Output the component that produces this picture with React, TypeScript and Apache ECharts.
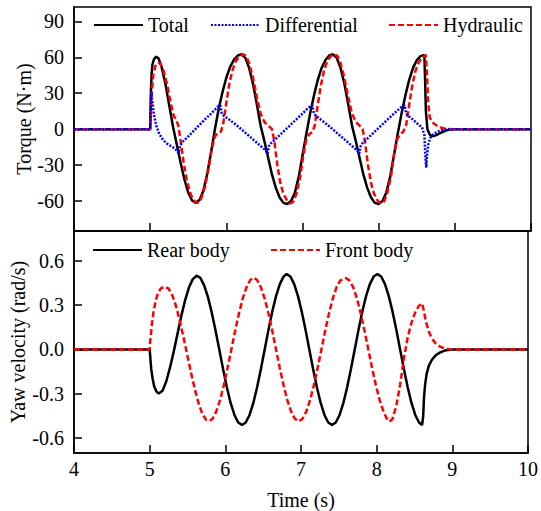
import React, { useEffect, useRef } from "react";
import * as echarts from "echarts";

// ---- Data (time s, value) ----
const totalTorque: [number, number][] = [
  [4, 0], [5, 0], [5.005, 15], [5.01, 32], [5.02, 47], [5.03, 54], [5.05, 58.5], [5.08, 60.5],
  [5.11, 59], [5.15, 52], [5.2, 38], [5.25, 20], [5.3, 2], [5.35, -13], [5.4, -28], [5.45, -42],
  [5.5, -53], [5.55, -59.5], [5.6, -61.5], [5.65, -59], [5.7, -51], [5.75, -37], [5.8, -19],
  [5.85, 0], [5.9, 17], [5.95, 31], [6.0, 43], [6.05, 52], [6.1, 58], [6.15, 61.5], [6.2, 62.5],
  [6.25, 59.5], [6.3, 51], [6.35, 38], [6.4, 21], [6.45, 3], [6.5, -10], [6.55, -24], [6.6, -38],
  [6.65, -49], [6.7, -57], [6.75, -61.5], [6.8, -62.5], [6.85, -60], [6.9, -53], [6.95, -40],
  [7.0, -22], [7.05, -4], [7.1, 13], [7.15, 28], [7.2, 41], [7.25, 51], [7.3, 57.5], [7.35, 61.5],
  [7.4, 62.5], [7.45, 59.5], [7.5, 51], [7.55, 38], [7.6, 21], [7.65, 3], [7.7, -10], [7.75, -24],
  [7.8, -38], [7.85, -49], [7.9, -57], [7.95, -61.5], [8.0, -62.5], [8.05, -60], [8.1, -53],
  [8.15, -40], [8.2, -22], [8.25, -4], [8.3, 13], [8.35, 28], [8.4, 41], [8.45, 51], [8.5, 57.5],
  [8.55, 61], [8.6, 62], [8.61, 40], [8.62, 15], [8.64, 0], [8.67, -4.5], [8.7, -6], [8.75, -5.2],
  [8.8, -3.5], [8.85, -2], [8.9, -0.8], [8.95, -0.2], [9.0, 0], [10, 0],
];

const hydraulicTorque: [number, number][] = [
  [4, 0], [5, 0], [5.01, 12], [5.02, 28], [5.04, 45], [5.07, 53], [5.1, 55.5], [5.13, 55],
  [5.17, 50], [5.22, 38], [5.27, 22], [5.31, 11], [5.34, 8], [5.37, 3], [5.4, -10], [5.44, -28],
  [5.48, -42], [5.52, -52], [5.56, -58.5], [5.6, -61], [5.63, -61.5], [5.67, -58], [5.72, -48],
  [5.77, -32], [5.81, -16], [5.85, -6], [5.89, -3], [5.93, -2], [5.96, 5], [6.0, 22], [6.04, 38],
  [6.08, 49], [6.12, 56], [6.17, 61], [6.22, 62.5], [6.26, 61], [6.3, 55], [6.35, 43], [6.4, 27],
  [6.45, 13], [6.5, 6], [6.55, 3], [6.6, 0], [6.63, -10], [6.67, -30], [6.71, -45], [6.75, -54],
  [6.8, -60], [6.84, -62], [6.88, -60.5], [6.92, -54], [6.97, -40], [7.01, -22], [7.05, -9],
  [7.09, -4], [7.13, -2.5], [7.16, 3], [7.2, 20], [7.24, 36], [7.28, 48], [7.32, 56], [7.37, 61],
  [7.42, 62.5], [7.46, 61], [7.5, 55], [7.55, 43], [7.6, 27], [7.65, 13], [7.7, 6], [7.75, 3],
  [7.79, 0], [7.82, -10], [7.86, -30], [7.9, -45], [7.94, -54], [7.99, -60], [8.03, -62],
  [8.07, -60.5], [8.11, -54], [8.16, -40], [8.2, -22], [8.24, -9], [8.28, -4], [8.32, -2.5],
  [8.36, 3], [8.4, 20], [8.44, 36], [8.48, 48], [8.52, 55], [8.56, 59], [8.6, 61], [8.62, 62],
  [8.635, 45], [8.65, 22], [8.67, 10], [8.7, 6], [8.75, 3.5], [8.8, 1.8], [8.86, 0.6], [8.92, 0.1],
  [9.0, 0], [10, 0],
];

const differentialTorque: [number, number][] = [
  [4, 0], [5, 0], [5.005, 15], [5.015, 31], [5.03, 22], [5.05, 12], [5.08, 3], [5.12, -4],
  [5.17, -9], [5.22, -12], [5.27, -14], [5.32, -16], [5.36, -18.5], [5.375, -20], [5.39, -14],
  [5.42, -11], [5.5, -6], [5.6, 0.5], [5.7, 7], [5.8, 13], [5.87, 17.5], [5.9, 19.5], [5.92, 20],
  [5.94, 13], [5.97, 11], [6.05, 7.5], [6.15, 2.5], [6.25, -3], [6.35, -8.5], [6.45, -14],
  [6.52, -18], [6.54, -20.5], [6.56, -14], [6.59, -11.5], [6.7, -5], [6.8, 1], [6.9, 7], [7.0, 13],
  [7.07, 17.5], [7.11, 19.5], [7.13, 20], [7.15, 13], [7.18, 11], [7.25, 7.5], [7.35, 2.5],
  [7.45, -3], [7.55, -8.5], [7.65, -14], [7.72, -18], [7.745, -20.5], [7.765, -14], [7.79, -11.5],
  [7.9, -5], [8.0, 1], [8.1, 7], [8.2, 13], [8.28, 17.5], [8.32, 19.5], [8.34, 20], [8.36, 13],
  [8.39, 11], [8.45, 8], [8.52, 4], [8.57, 1.5], [8.6, -5], [8.615, -25], [8.625, -32],
  [8.635, -22], [8.65, -13], [8.68, -7], [8.72, -4], [8.78, -1.8], [8.85, -0.6], [8.92, -0.1],
  [9.0, 0], [10, 0],
];

const rearYaw: [number, number][] = [
  [4, 0], [5, 0], [5.02, -0.13], [5.04, -0.2], [5.06, -0.25], [5.09, -0.285], [5.12, -0.298],
  [5.17, -0.28], [5.22, -0.215], [5.27, -0.12], [5.32, -0.01], [5.37, 0.11], [5.42, 0.23],
  [5.47, 0.335], [5.52, 0.42], [5.57, 0.475], [5.62, 0.498], [5.67, 0.483], [5.72, 0.433],
  [5.77, 0.354], [5.82, 0.25], [5.87, 0.13], [5.92, 0.0], [5.97, -0.132], [6.02, -0.256],
  [6.07, -0.362], [6.12, -0.443], [6.17, -0.494], [6.22, -0.511], [6.27, -0.494], [6.32, -0.443],
  [6.37, -0.362], [6.42, -0.256], [6.47, -0.132], [6.52, 0.0], [6.57, 0.132], [6.62, 0.255],
  [6.67, 0.36], [6.72, 0.441], [6.77, 0.492], [6.81, 0.509], [6.86, 0.493], [6.91, 0.441],
  [6.96, 0.36], [7.01, 0.255], [7.06, 0.132], [7.11, 0.0], [7.16, -0.132], [7.21, -0.256],
  [7.26, -0.362], [7.31, -0.443], [7.36, -0.494], [7.41, -0.511], [7.46, -0.494], [7.51, -0.443],
  [7.56, -0.362], [7.61, -0.256], [7.66, -0.132], [7.71, 0.0], [7.76, 0.132], [7.81, 0.255],
  [7.86, 0.36], [7.91, 0.441], [7.96, 0.492], [8.01, 0.509], [8.06, 0.493], [8.11, 0.441],
  [8.16, 0.36], [8.21, 0.255], [8.26, 0.132], [8.31, 0.0], [8.36, -0.132], [8.41, -0.256],
  [8.46, -0.362], [8.51, -0.443], [8.56, -0.494], [8.6, -0.512], [8.615, -0.45], [8.625, -0.33],
  [8.64, -0.24], [8.66, -0.165], [8.69, -0.11], [8.73, -0.07], [8.78, -0.04], [8.84, -0.02],
  [8.9, -0.008], [8.96, -0.002], [9.0, 0], [10, 0],
];

const frontYaw: [number, number][] = [
  [4, 0], [5, 0], [5.01, 0.07], [5.03, 0.17], [5.05, 0.25], [5.08, 0.33], [5.11, 0.38],
  [5.15, 0.413], [5.2, 0.424], [5.25, 0.41], [5.3, 0.365], [5.35, 0.29], [5.4, 0.19],
  [5.45, 0.075], [5.5, -0.045], [5.55, -0.165], [5.6, -0.275], [5.65, -0.37], [5.7, -0.44],
  [5.75, -0.478], [5.785, -0.485], [5.83, -0.47], [5.88, -0.42], [5.93, -0.343], [5.98, -0.243],
  [6.03, -0.126], [6.08, 0.0], [6.13, 0.126], [6.18, 0.243], [6.23, 0.343], [6.28, 0.42],
  [6.33, 0.469], [6.375, 0.485], [6.42, 0.469], [6.47, 0.42], [6.52, 0.343], [6.57, 0.243],
  [6.62, 0.126], [6.67, 0.0], [6.72, -0.126], [6.77, -0.243], [6.82, -0.343], [6.87, -0.42],
  [6.92, -0.469], [6.97, -0.487], [7.02, -0.469], [7.07, -0.42], [7.12, -0.343], [7.17, -0.243],
  [7.22, -0.126], [7.27, 0.0], [7.32, 0.126], [7.37, 0.243], [7.42, 0.343], [7.47, 0.42],
  [7.52, 0.466], [7.59, 0.482], [7.64, 0.466], [7.69, 0.42], [7.74, 0.343], [7.79, 0.243],
  [7.84, 0.126], [7.89, 0.0], [7.94, -0.126], [7.99, -0.243], [8.04, -0.343], [8.09, -0.42],
  [8.13, -0.465], [8.17, -0.488], [8.21, -0.47], [8.26, -0.38], [8.31, -0.24], [8.36, -0.06],
  [8.41, 0.08], [8.46, 0.18], [8.51, 0.25], [8.56, 0.295], [8.6, 0.311], [8.62, 0.27],
  [8.65, 0.19], [8.69, 0.12], [8.73, 0.074], [8.78, 0.04], [8.84, 0.018], [8.9, 0.006],
  [8.96, 0.001], [9.0, 0], [10, 0],
];

const torqueTicks = [-60, -30, 0, 30, 60, 90];
const yawTicks = [-0.6, -0.3, 0, 0.3, 0.6];

const FONT = "Liberation Serif";

export default function App() {
  const ref = useRef<HTMLDivElement>(null);
  useEffect(() => {
    document.body.style.margin = "0";
    const chart = echarts.init(ref.current!, null, { renderer: "svg" });
    const axisLine = { show: true, onZero: false, lineStyle: { color: "#000", width: 1.5 } };
    const tick = { show: true, inside: true, length: 8, lineStyle: { color: "#000", width: 1.5 } };
    const label = { color: "#000", fontSize: 20, fontFamily: FONT };
    const nameStyle = { color: "#000", fontSize: 20, fontFamily: FONT };
    const legendBase = {
      padding: 0,
      itemWidth: 49,
      itemHeight: 20,
      itemGap: 5,
      selectedMode: false,
      itemStyle: { opacity: 0 },
      textStyle: { color: "#000", fontSize: 20, fontFamily: FONT },
    };
    chart.setOption({
      animation: false,
      backgroundColor: "#fff",
      textStyle: { fontFamily: FONT },
      grid: [
        { left: 74, right: 10, top: 7, height: 224, show: true, borderColor: "#000", borderWidth: 1.5 },
        { left: 74, right: 10, top: 231, height: 222.5, show: true, borderColor: "#000", borderWidth: 1.5 },
      ],
      legend: [
        { ...legendBase, data: ["Total"], left: 93, top: 15 },
        { ...legendBase, data: ["Differential"], left: 210, top: 15 },
        { ...legendBase, data: ["Hydraulic"], left: 388, top: 15 },
        { ...legendBase, data: ["Rear body"], left: 92, top: 240 },
        { ...legendBase, data: ["Front body"], left: 270, top: 240 },
      ],
      xAxis: [
        {
          type: "value", gridIndex: 0, min: 4, max: 10, interval: 1,
          axisLine, axisTick: tick, axisLabel: { show: false }, splitLine: { show: false },
        },
        {
          type: "value", gridIndex: 1, min: 4, max: 10, interval: 1,
          axisLine, axisTick: tick, axisLabel: { ...label, margin: 6 }, splitLine: { show: false },
          name: "Time (s)", nameLocation: "middle", nameGap: 37, nameMoveOverlap: false, nameTextStyle: nameStyle,
        },
      ],
      yAxis: [
        {
          type: "value", gridIndex: 0, min: -85, max: 102,
          axisLine, axisTick: { ...tick, customValues: torqueTicks },
          axisLabel: { ...label, margin: 10, customValues: torqueTicks },
          splitLine: { show: false },
          name: "Torque (N·m)", nameLocation: "middle", nameGap: 40, nameMoveOverlap: false, nameTextStyle: nameStyle,
        },
        {
          type: "value", gridIndex: 1, min: -0.7, max: 0.8,
          axisLine, axisTick: { ...tick, customValues: yawTicks },
          axisLabel: { ...label, margin: 10, customValues: yawTicks, formatter: (v: number) => v.toFixed(1) },
          splitLine: { show: false },
          name: "Yaw velocity (rad/s)", nameLocation: "middle", nameGap: 46, nameMoveOverlap: false, nameTextStyle: nameStyle,
        },
      ],
      series: [
        {
          name: "Total", type: "line", xAxisIndex: 0, yAxisIndex: 0, data: totalTorque,
          showSymbol: false, symbol: "none", lineStyle: { color: "#000", width: 2.5 }, itemStyle: { color: "#000" },
        },
        {
          name: "Hydraulic", type: "line", xAxisIndex: 0, yAxisIndex: 0, data: hydraulicTorque,
          showSymbol: false, symbol: "none", lineStyle: { color: "#ff0000", width: 2.5, type: [6, 3] }, itemStyle: { color: "#ff0000" },
        },
        {
          name: "Differential", type: "line", xAxisIndex: 0, yAxisIndex: 0, data: differentialTorque,
          showSymbol: false, symbol: "none", lineStyle: { color: "#0000ff", width: 2.5, type: [2, 1.5] }, itemStyle: { color: "#0000ff" },
        },
        {
          name: "Rear body", type: "line", xAxisIndex: 1, yAxisIndex: 1, data: rearYaw,
          showSymbol: false, symbol: "none", lineStyle: { color: "#000", width: 2.5 }, itemStyle: { color: "#000" },
        },
        {
          name: "Front body", type: "line", xAxisIndex: 1, yAxisIndex: 1, data: frontYaw,
          showSymbol: false, symbol: "none", lineStyle: { color: "#ff0000", width: 2.5, type: [6, 3] }, itemStyle: { color: "#ff0000" },
        },
      ],
    });
    return () => chart.dispose();
  }, []);
  return <div ref={ref} style={{ position: "absolute", left: 0, top: 0, width: 541, height: 511 }} />;
}
